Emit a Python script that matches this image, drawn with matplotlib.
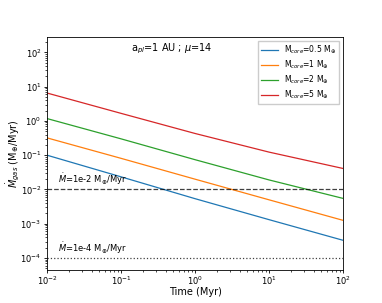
import numpy as np
import matplotlib
matplotlib.use("Agg")
from matplotlib import pyplot as plt

# time in Myr and gas accretion rate (M_earth/Myr)
time = [1e-2, 1e-1, 1e0, 1e1, 1e2]
mdot_05 = [0.100, 0.0234, 0.0054, 0.00132, 0.00033]
mdot_1 = [0.32, 0.081, 0.020, 0.0050, 0.00126]
mdot_2 = [1.17, 0.30, 0.074, 0.019, 0.0055]
mdot_5 = [6.5, 1.66, 0.43, 0.123, 0.041]
labels = ["M$_{core}$=0.5 M$_{\\oplus}$", "M$_{core}$=1 M$_{\\oplus}$",
          "M$_{core}$=2 M$_{\\oplus}$", "M$_{core}$=5 M$_{\\oplus}$"]

fig = plt.figure(figsize=(3.82, 3.03), dpi=100)
ax = fig.add_axes([0.123, 0.109, 0.775, 0.769])

for y, lab in zip([mdot_05, mdot_1, mdot_2, mdot_5], labels):
    ax.plot(time, y, lw=0.9, label=lab)

ax.axhline(1e-2, color="k", ls="--", lw=0.9, alpha=0.75)
ax.axhline(1e-4, color="k", ls=":", lw=0.9, alpha=0.75)
ax.text(1.4e-2, 1.15e-2, "$\\dot{M}$=1e-2 M$_{\\oplus}$/Myr", fontsize=6, va="bottom")
ax.text(1.4e-2, 1.15e-4, "$\\dot{M}$=1e-4 M$_{\\oplus}$/Myr", fontsize=6, va="bottom")
ax.text(0.42, 0.95, "a$_{pl}$=1 AU ; $\\mu$=14", transform=ax.transAxes,
        ha="center", va="center", fontsize=7)

ax.set_xscale("log")
ax.set_yscale("log")
ax.set_xlim(1e-2, 1e2)
ax.set_ylim(4.5e-5, 2.8e2)
ax.tick_params(labelsize=6, length=2.5, width=0.6, pad=1.5)
ax.tick_params(axis="x", pad=0.8)
ax.tick_params(which="minor", length=1.5, width=0.5)
for s in ax.spines.values():
    s.set_linewidth(0.6)
ax.set_xlabel("Time (Myr)", fontsize=7)
ax.set_ylabel("$\\dot{M}_{gas}$ (M$_{\\oplus}$/Myr)", fontsize=7)
ax.xaxis.set_label_coords(0.5, -0.075)
ax.yaxis.set_label_coords(-0.085, 0.5)
ax.legend(loc="upper right", fontsize=5.5, handlelength=2.2, borderpad=0.4,
          labelspacing=0.3, fancybox=False, framealpha=1, edgecolor="#cccccc")

fig.savefig("out.png", dpi=100)
